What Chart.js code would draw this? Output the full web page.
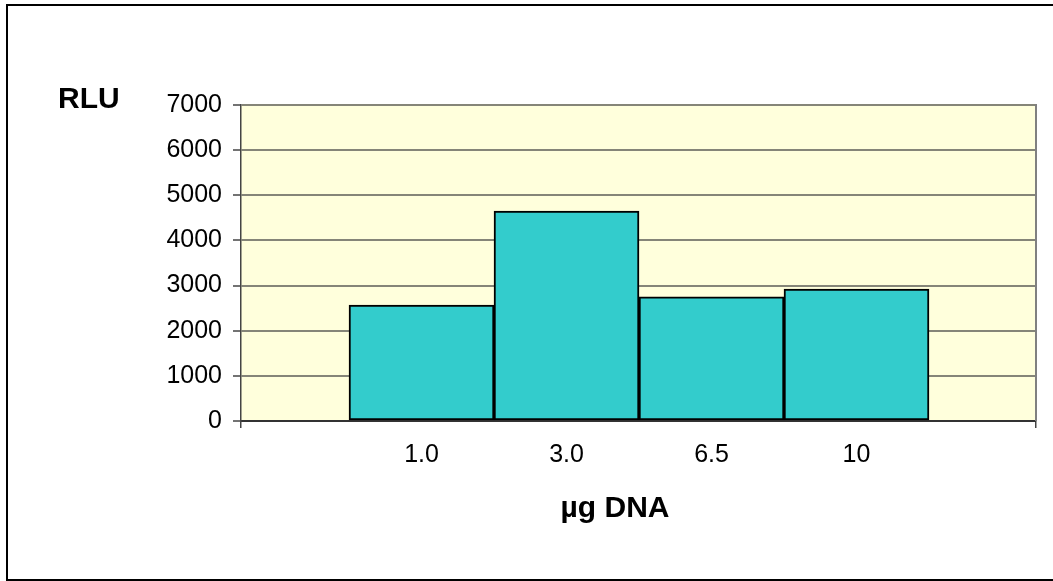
<!DOCTYPE html>
<html>
<head>
<meta charset="utf-8">
<script src="https://cdn.jsdelivr.net/npm/chart.js@4/dist/chart.umd.min.js"></script>
<style>
  html, body { margin: 0; padding: 0; background: #fff; overflow: hidden; width: 1053px; height: 581px; }
  #wrap { position: relative; width: 1053px; height: 581px; }
  canvas { position: absolute; left: 0; top: 0; }
  #frame { position: absolute; left: 6px; top: 4px; width: 1060px; height: 573px; border: 2px solid #000; pointer-events: none; }
</style>
</head>
<body>
<div id="wrap">
  <canvas id="c" width="1053" height="581"></canvas>
  <div id="frame"></div>
</div>
<script>
// ---- data ----
const categories = ['1.0', '3.0', '6.5', '10'];
const rluValues = [2570, 4650, 2750, 2920];
const yMin = 0;
const yMax = 7000;
const yStep = 1000;
const yTitle = 'RLU';
const xTitle = '\u00B5g DNA';

const FONT = "'Liberation Sans', Arial, Helvetica, sans-serif";

const points = categories.map((c, i) => ({ x: i, y: rluValues[i] }));

const decor = {
  id: 'decor',
  beforeDraw(chart) {
    const { ctx, chartArea: a } = chart;
    ctx.save();
    ctx.fillStyle = '#FFFFDC';
    ctx.fillRect(a.left, a.top, a.right - a.left, a.bottom - a.top);
    ctx.restore();
  },
  afterDraw(chart) {
    const { ctx, chartArea: a } = chart;
    ctx.save();
    // right border of plot area
    ctx.strokeStyle = '#808080';
    ctx.lineWidth = 2;
    ctx.beginPath();
    ctx.moveTo(a.right, a.top - 1);
    ctx.lineTo(a.right, a.bottom);
    ctx.stroke();
    // titles
    ctx.fillStyle = '#000';
    ctx.font = 'bold 30px ' + FONT;
    ctx.textBaseline = 'alphabetic';
    ctx.textAlign = 'left';
    ctx.fillText(yTitle, a.left - 183, a.top + 3);
    ctx.textAlign = 'center';
    ctx.fillText(xTitle, a.left + 374, a.bottom + 96);
    ctx.restore();
  }
};

new Chart(document.getElementById('c'), {
  type: 'bar',
  data: {
    datasets: [{
      data: points,
      backgroundColor: '#33CCCC',
      borderColor: '#000000',
      borderWidth: 2,
      borderSkipped: false,
      barPercentage: 1,
      categoryPercentage: 1
    }]
  },
  options: {
    responsive: false,
    animation: false,
    devicePixelRatio: 1,
    layout: { padding: { left: 0, right: 17, top: 105, bottom: 0 } },
    plugins: {
      legend: { display: false },
      tooltip: { enabled: false },
      title: { display: false }
    },
    scales: {
      x: {
        type: 'linear',
        offset: false,
        min: -1.245,
        max: 4.238,
        afterBuildTicks(scale) {
          const vals = [scale.min].concat(categories.map((c, i) => i), [scale.max]);
          scale.ticks = vals.map(v => ({ value: v }));
        },
        afterFit(scale) { scale.height = 160; },
        ticks: {
          autoSkip: false,
          maxRotation: 0,
          minRotation: 0,
          padding: 12,
          color: '#000',
          font: { family: FONT, size: 25 },
          callback(value) {
            return (Number.isInteger(value) && categories[value] !== undefined) ? categories[value] : '';
          }
        },
        grid: {
          display: true,
          offset: false,
          drawOnChartArea: false,
          drawTicks: true,
          tickLength: 7,
          lineWidth: 1.5,
          tickColor(ctx) {
            const n = ctx.chart.scales.x.ticks.length;
            return (ctx.index === 0 || ctx.index === n - 1) ? '#444' : 'rgba(0,0,0,0)';
          }
        },
        border: { display: true, color: '#333', width: 2 }
      },
      y: {
        min: yMin,
        max: yMax,
        afterFit(scale) { scale.width = 241; },
        ticks: {
          stepSize: yStep,
          padding: 11,
          color: '#000',
          font: { family: FONT, size: 25 },
          callback(value) { return String(value); }
        },
        grid: {
          color: '#858578',
          lineWidth: 2,
          tickLength: 8,
          tickColor: '#444',
          tickWidth: 1.5
        },
        border: { display: true, color: '#444', width: 1.5 }
      }
    }
  },
  plugins: [decor]
});
</script>
</body>
</html>
